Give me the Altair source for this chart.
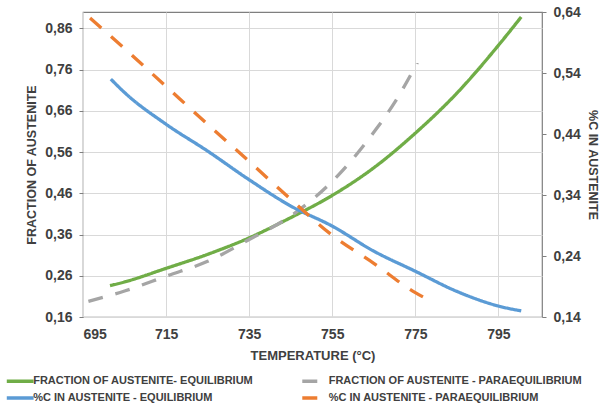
import altair as alt
import pandas as pd

# ---- data ----
series_names = [
    "FRACTION OF AUSTENITE- EQUILIBRIUM",
    "%C IN AUSTENITE - EQUILIBRIUM",
    "FRACTION OF AUSTENITE - PARAEQUILIBRIUM",
    "%C IN AUSTENITE - PARAEQUILIBRIUM",
]
series_colors = ["#70AD47", "#5B9BD5", "#A5A5A5", "#ED7D31"]
series_dashes = [[1, 0], [1, 0], [15, 13], [15, 13]]

frac_eq_T = [701.5, 705, 715, 725, 735, 745, 755, 765, 775, 785, 795, 800.5]
frac_eq = [0.236, 0.245, 0.278, 0.312, 0.352, 0.401, 0.455, 0.522, 0.606, 0.703, 0.819, 0.888]

frac_para_T = [696.3, 705, 715, 725, 735, 745, 755, 765, 770, 775.5]
frac_para = [0.198, 0.223, 0.259, 0.295, 0.348, 0.405, 0.489, 0.608, 0.680, 0.777]

c_eq_T = [701.7, 705, 715, 725, 735, 745, 755, 765, 775, 785, 795, 800.5]
c_eq = [0.530, 0.508, 0.456, 0.412, 0.365, 0.322, 0.289, 0.248, 0.215, 0.182, 0.158, 0.150]

c_para_T = [696.7, 705, 715, 725, 735, 745, 755, 765, 775, 777.4]
c_para = [0.630, 0.580, 0.518, 0.456, 0.395, 0.333, 0.274, 0.228, 0.180, 0.171]

x_ticks = [695, 715, 735, 755, 775, 795]
left_ticks = [0.16, 0.26, 0.36, 0.46, 0.56, 0.66, 0.76, 0.86]
right_ticks = [0.14, 0.24, 0.34, 0.44, 0.54, 0.64]

x_title = "TEMPERATURE  (°C)"
left_title = "FRACTION OF AUSTENITE"
right_title = "%C IN AUSTENITE"

# ---- tables ----
def frame(T, v, name):
    return pd.DataFrame({"T": T, "v": v, "series": name})

df_left = pd.concat([frame(frac_eq_T, frac_eq, series_names[0]),
                     frame(frac_para_T, frac_para, series_names[2])])
df_right = pd.concat([frame(c_eq_T, c_eq, series_names[1]),
                      frame(c_para_T, c_para, series_names[3])])

FONT = "Liberation Sans"
TXT = "#404040"
comma_fmt = "replace(format(datum.value, '.2f'), '.', ',')"

# long horizontal stroke symbol (path spans twice the unit box, so rows stay compact)
legend = alt.Legend(
    title=None, orient="none", legendX=-78, legendY=360.5, columns=2,
    columnPadding=40.5, rowPadding=1, padding=0,
    symbolType="M-2,0L2,0", symbolSize=180, symbolStrokeWidth=3.5,
    symbolOffset=6.7,
    labelFont=FONT, labelFontSize=11, labelFontWeight="bold",
    labelColor=TXT, labelOffset=4.5, labelLimit=400,
)

x_enc = alt.X(
    "T:Q",
    scale=alt.Scale(domain=[695, 805.5], nice=False, zero=False),
    axis=alt.Axis(values=x_ticks, title=x_title, grid=True, ticks=False,
                  tickSize=0, labelPadding=10, titlePadding=8,
                  titleFontSize=13),
)
color_enc = alt.Color("series:N",
                      scale=alt.Scale(domain=series_names, range=series_colors),
                      legend=legend)
dash_enc = alt.StrokeDash("series:N",
                          scale=alt.Scale(domain=series_names, range=series_dashes),
                          legend=legend)

left = alt.Chart(df_left).mark_line(strokeWidth=3.3, interpolate="monotone").encode(
    x=x_enc,
    y=alt.Y("v:Q",
            scale=alt.Scale(domain=[0.16, 0.90], nice=False, zero=False),
            axis=alt.Axis(orient="left", values=left_ticks, title=left_title,
                          labelExpr=comma_fmt, grid=True, ticks=True,
                          tickSize=4, labelPadding=7, titlePadding=6,
                          titleFontSize=12.5)),
    color=color_enc,
    strokeDash=dash_enc,
)

right = alt.Chart(df_right).mark_line(strokeWidth=3.3, interpolate="monotone").encode(
    x=x_enc,
    y=alt.Y("v:Q",
            scale=alt.Scale(domain=[0.14, 0.64], nice=False, zero=False),
            axis=alt.Axis(orient="right", values=right_ticks, title=right_title,
                          labelExpr=comma_fmt, grid=False, ticks=True,
                          tickSize=4, labelPadding=7, titlePadding=5,
                          titleFontSize=12.5)),
    color=color_enc,
    strokeDash=dash_enc,
)

chart = (
    alt.layer(left, right)
    .resolve_scale(y="independent")
    .properties(
        width=459, height=305,
        padding={"left": 83, "top": 12, "right": 59, "bottom": 89},
        autosize=alt.AutoSizeParams(type="none"),
        background="white",
    )
    .configure_view(stroke="#7F7F7F", strokeWidth=1.2)
    .configure_axis(
        domain=False,
        labelFont=FONT, labelFontSize=14, labelFontWeight="bold", labelColor=TXT,
        titleFont=FONT, titleFontWeight="bold", titleColor=TXT,
        gridColor="#D9D9D9", gridWidth=1, tickColor="#7F7F7F", tickWidth=1,
    )
)

chart.save("out.html", embed_options={"renderer": "svg", "actions": False})
